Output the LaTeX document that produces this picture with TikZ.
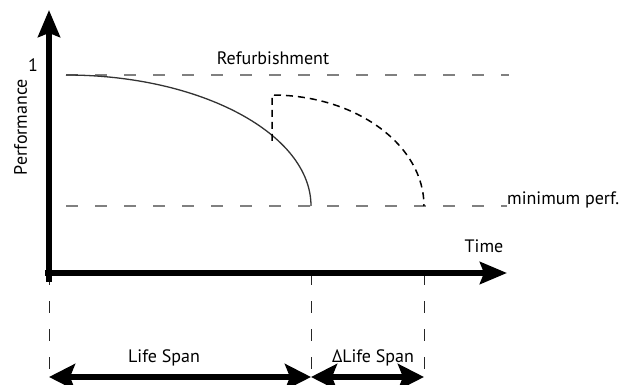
\documentclass[tikz,border=0pt]{standalone}
\usepackage{fontspec}
\setmainfont{PT Sans}
\usetikzlibrary{arrows.meta}

\begin{document}
\begin{tikzpicture}[x=1pt, y=-1pt,
    axis/.style={line width=5.5pt, -{Stealth[length=27pt, width=22pt, inset=4pt]}},
    guide/.style={gray, line width=1.2pt, dash pattern=on 12pt off 17pt},
    drop/.style={black!85, line width=1pt, dash pattern=on 12pt off 16pt},
    perf/.style={black!80, line width=1.3pt},
    refit/.style={line width=1.5pt, dash pattern=on 7pt off 5pt},
    span/.style={line width=6pt,
                 {Stealth[length=26pt, width=26pt, inset=5pt]}-{Stealth[length=26pt, width=26pt, inset=5pt]}},
    lbl/.style={font=\fontsize{18}{21}\selectfont, anchor=base, inner sep=0pt}
  ]
    \useasboundingbox (0,0) rectangle (622,385);
    % axes
    \coordinate (o) at (49,273);
    \coordinate (ybot) at (49,282);
    \coordinate (ytop) at (49,10);
    \coordinate (xleft) at (45,273);
    \coordinate (xtip) at (507,273);
    % performance levels
    \coordinate (full) at (66,75);
    \coordinate (fullend) at (509,75);
    \coordinate (minstart) at (66,206);
    \coordinate (minend) at (507,206);
    \coordinate (fail) at (311,206);
    \coordinate (refurb) at (272,141);
    \coordinate (refurbtop) at (272,95);
    \coordinate (fail2) at (424,206);
    % spans
    \coordinate (t1) at (311,273);
    \coordinate (t2) at (424,273);
    \coordinate (s0) at (49,377);
    \coordinate (s1) at (311,377);
    \coordinate (s2) at (424,377);

    \draw[guide] (full) -- (fullend);
    \draw[guide] (minstart) -- (minend);
    \draw[perf] (full) .. controls +(135,0) and +(0,-72) .. (fail);
    \draw[refit] (refurb) -- (refurbtop) .. controls +(84,0) and +(0,-61) .. (fail2);

    \draw[drop] (o) -- (s0);
    \draw[drop] (t1) -- (s1);
    \draw[drop] (t2) -- (s2);

    \draw[axis] (ybot) -- (ytop);
    \draw[axis] (xleft) -- (xtip);

    \draw[span] (s0) -- (s1);
    \draw[span] (s1) -- (s2);

    \node[lbl] (one) at (33,72) {1};
    \node[lbl, rotate=90] (perfl) at (27,127) {Performance};
    \node[lbl] (refurbl) at (273,65) {Refurbishment};
    \node[lbl, anchor=base west] (minl) at (507,205) {minimum perf.};
    \node[lbl] (time) at (484,253) {Time};
    \node[lbl] (life) at (164,362) {Life Span};
    \node[lbl] (dlife) at (373,362) {ΔLife Span};
\end{tikzpicture}
\end{document}
